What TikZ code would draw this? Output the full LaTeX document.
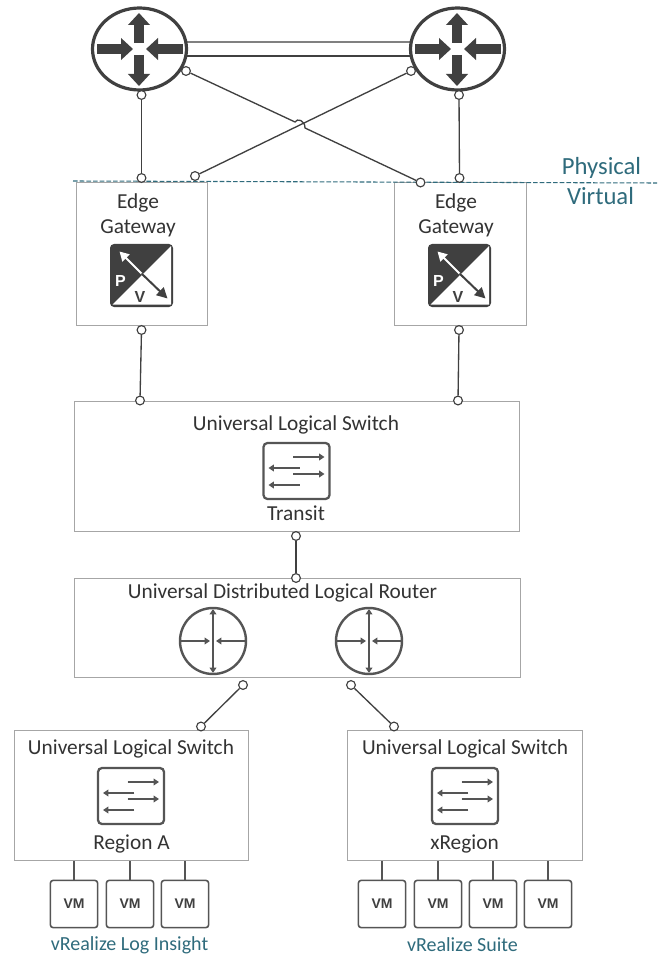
\documentclass[tikz,border=0pt]{standalone}
\usepackage{fontspec}
\setmainfont{Carlito}
\newfontfamily\iconfont{Liberation Sans}
\usetikzlibrary{arrows.meta,calc}
\definecolor{ink}{HTML}{404040}
\definecolor{icongray}{HTML}{555555}
\definecolor{boxline}{HTML}{A6A6A6}
\definecolor{teal}{HTML}{2F6B7C}
\tikzset{
  x=0.75pt,y=-0.75pt,
  box/.style={draw=boxline,line width=0.9pt,fill=white,rectangle,inner sep=0,anchor=north west},
  lbl/.style={font=\fontsize{16}{18}\selectfont,text=black!80,inner sep=0,anchor=base},
  tlbl/.style={font=\fontsize{15}{18}\selectfont,text=teal,inner sep=0,anchor=base},
  blbl/.style={font=\fontsize{18.5}{20}\selectfont,text=teal,inner sep=0,anchor=base},
  port/.style={circle,draw=ink,fill=white,line width=0.85pt,minimum size=6.6pt,inner sep=0},
  wire/.style={draw=ink,line width=1pt},
  vmbox/.style={draw=icongray,line width=1.2pt,rounded corners=2.2pt,fill=white,minimum width=35.5pt,minimum height=35.5pt,inner sep=0,
     font=\iconfont\fontsize{10.5}{12}\selectfont\bfseries,text=ink},
  fat/.style={-{Triangle[length=9pt,width=16pt]},draw=ink,fill=ink,line width=8pt},
  thin/.style={-{Triangle[length=4pt,width=5pt]},draw=icongray,fill=icongray,line width=1.4pt},
  thinb/.style={{Triangle[length=4pt,width=5pt]}-{Triangle[length=4pt,width=5pt]},draw=icongray,fill=icongray,line width=1.4pt},
  router/.pic={
    \draw[ink,line width=2.4pt,fill=white] (0,0) ellipse [x radius=47,y radius=41];
    \draw[fat] (-0.5,-6) -- (-0.5,-36);
    \draw[fat] (-0.5,6) -- (-0.5,37);
    \draw[fat] (-42.5,0) -- (-6.5,0);
    \draw[fat] (43.5,0) -- (6.5,0);
  },
  swicon/.pic={
    \draw[icongray,line width=1.7pt,rounded corners=3pt,fill=white] (-33,-28) rectangle (33,28);
    \draw[thin] (-3.5,-14) -- (28,-14);
    \draw[thin] (3,-3) -- (-28,-3);
    \draw[thin] (-3.5,3) -- (28,3);
    \draw[thin] (3,14) -- (-28,14);
  },
  dlr/.pic={
    \draw[icongray,line width=1.8pt,fill=white] (0,0) circle (33);
    \draw[thinb] (0,-32) -- (0,32);
    \draw[thin] (-32,0) -- (-3,0);
    \draw[thin] (32,0) -- (3,0);
  },
  pvicon/.pic={
    \fill[ink,rounded corners=3pt] (-31.5,-31.5) rectangle (31.5,31.5);
    \fill[white] (-29,29) -- (29.5,-29.5) -- (29.5,29) -- cycle;
    \draw[white,line width=1.5pt,-{Triangle[length=7pt,width=7.5pt]}] (2,0) -- (-22,-24);
    \draw[ink,line width=1.5pt,-{Triangle[length=8pt,width=8pt]}] (0,-2) -- (26,23);
    \node[inner sep=0,text=white,font=\iconfont\fontsize{12}{14}\selectfont\bfseries] at (-21,5.5) {P};
    \node[inner sep=0,text=ink,font=\iconfont\fontsize{12}{14}\selectfont\bfseries] at (-1.5,21.5) {V};
  }
}
\begin{document}
\begin{tikzpicture}
\useasboundingbox (0,0) rectangle (657,955);
% boxes
\node[box,minimum width=98.25pt,minimum height=107.25pt] (edgeL) at (76,182) {};
\node[box,minimum width=99pt,minimum height=107.25pt] (edgeR) at (394,182) {};
\node[box,minimum width=333.75pt,minimum height=97.5pt] (transit) at (74,401) {};
\node[box,minimum width=334.5pt,minimum height=74.25pt] (udlr) at (74,578) {};
\node[box,minimum width=175.5pt,minimum height=97.5pt] (regA) at (14,730) {};
\node[box,minimum width=176.25pt,minimum height=97.5pt] (xreg) at (347,730) {};
% physical/virtual line
\coordinate (dashL) at (73,181);
\coordinate (dashR) at (657,183);
\draw[teal,line width=0.8pt,dash pattern=on 3.5pt off 1.5pt] (dashL) -- (dashR);
% texts
\node[lbl] (e1) at (138,208.5) {Edge};
\node[lbl] (e2) at (138,234) {Gateway};
\node[lbl] (e3) at (456,208.5) {Edge};
\node[lbl] (e4) at (456,234) {Gateway};
\node[blbl] (phys) at (601.5,175) {Physical};
\node[blbl] (virt) at (600.5,205) {Virtual};
\node[lbl] (t1) at (296,430.5) {Universal Logical Switch};
\node[lbl] (t2) at (296,520.5) {Transit};
\node[lbl] (r1) at (282.5,598.5) {Universal Distributed Logical Router};
\node[lbl] (a1) at (131,754.5) {Universal Logical Switch};
\node[lbl] (a2) at (131.5,849.5) {Region A};
\node[lbl] (x1) at (465,754.5) {Universal Logical Switch};
\node[lbl] (x2) at (464.5,849.5) {xRegion};
\node[tlbl] (la) at (129.5,950) {vRealize Log Insight};
\node[tlbl] (lb) at (462.5,951) {vRealize Suite};
% icons
\pic at (141.5,275.5) {pvicon};
\pic at (459.5,275.5) {pvicon};
\pic at (296.5,471) {swicon};
\pic at (131,796) {swicon};
\pic at (465,796) {swicon};
\pic at (213,641) {dlr};
\pic at (369,641) {dlr};
% routers
\coordinate (rLe) at (186,42);
\coordinate (rRe) at (411,42);
\coordinate (rLf) at (186,56);
\coordinate (rRf) at (411,56);
\draw[draw=gray,line width=1pt] (rLe) -- (rRe);
\draw[draw=ink,line width=1pt] (rLf) -- (rRf);
\pic at (139.5,49) {router};
\pic at (457.5,49) {router};
% ports
\node[port] (p1) at (141.5,95) {};
\node[port] (p2) at (186,71) {};
\node[port] (p3) at (411,71) {};
\node[port] (p4) at (459,95) {};
\node[port] (p5) at (141.5,178) {};
\node[port] (p6) at (195,176) {};
\node[port] (p7) at (420.5,182.5) {};
\node[port] (p8) at (459.5,178) {};
\node[port] (p9) at (141.5,330) {};
\node[port] (p10) at (140,400.5) {};
\node[port] (p11) at (459,330) {};
\node[port] (p12) at (458,400.5) {};
\node[port] (p13) at (296,536) {};
\node[port] (p14) at (296,578) {};
\node[port] (p15) at (243,685) {};
\node[port] (p16) at (201,726.5) {};
\node[port] (p17) at (351,685) {};
\node[port] (p18) at (394,726.5) {};
% connectors
\draw[wire] (p1) -- (p5);
\draw[wire] (p4) -- (p8);
\draw[wire] (p3) -- (p6);
\coordinate (bumpA) at (295,122);
\coordinate (bumpB) at (305,128);
\draw[wire] (p2) -- (bumpA) .. controls (297,118) and (305,120) .. (bumpB) -- (p7);
\draw[wire] (p9) -- (p10);
\draw[wire] (p11) -- (p12);
\draw[wire] (p13) -- (p14);
\draw[wire] (p15) -- (p16);
\draw[wire] (p17) -- (p18);
% VMs
\foreach \n/\cx in {a/74,b/130,c/185}{
  \node[vmbox] (vm\n) at (\cx,904) {VM};
  \draw[wire,draw=icongray,line width=1.2pt] (vm\n.north) -- (vm\n.north |- regA.south);
}
\foreach \n/\cx in {d/382,e/438,f/493,g/548}{
  \node[vmbox] (vm\n) at (\cx,904) {VM};
  \draw[wire,draw=icongray,line width=1.2pt] (vm\n.north) -- (vm\n.north |- xreg.south);
}
\end{tikzpicture}
\end{document}
